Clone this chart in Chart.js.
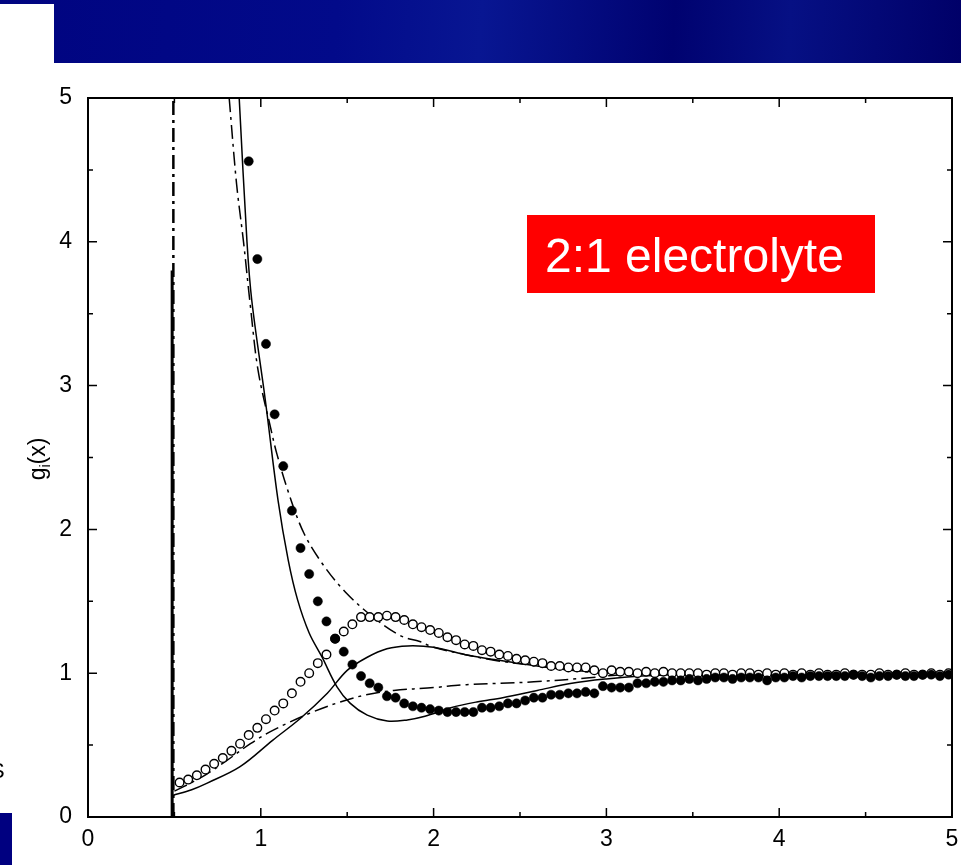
<!DOCTYPE html>
<html>
<head>
<meta charset="utf-8">
<script src="https://cdn.jsdelivr.net/npm/chart.js@4.4.1/dist/chart.umd.min.js"></script>
<style>
  html, body { margin: 0; padding: 0; background: #fff; }
  #wrap { width: 961px; height: 865px; position: relative; }
</style>
</head>
<body>
<div id="wrap"><canvas id="myChart"></canvas></div>
<script>
// axis ticks
var majorTicks = [0, 1, 2, 3, 4, 5];
var minorTicks = [0.5, 1.5, 2.5, 3.5, 4.5];

// simulation points (open = co-ions, filled = counter-ions)
var simX = [
  0.53, 0.58, 0.63, 0.68, 0.73, 0.78, 0.83, 0.88, 0.93, 0.98,
  1.03, 1.08, 1.13, 1.18, 1.23, 1.28, 1.33, 1.38, 1.43, 1.48,
  1.53, 1.58, 1.63, 1.68, 1.73, 1.78, 1.83, 1.88, 1.93, 1.98,
  2.03, 2.08, 2.13, 2.18, 2.23, 2.28, 2.33, 2.38, 2.43, 2.48,
  2.53, 2.58, 2.63, 2.68, 2.73, 2.78, 2.83, 2.88, 2.93, 2.98,
  3.03, 3.08, 3.13, 3.18, 3.23, 3.28, 3.33, 3.38, 3.43, 3.48,
  3.53, 3.58, 3.63, 3.68, 3.73, 3.78, 3.83, 3.88, 3.93, 3.98,
  4.03, 4.08, 4.13, 4.18, 4.23, 4.28, 4.33, 4.38, 4.43, 4.48,
  4.53, 4.58, 4.63, 4.68, 4.73, 4.78, 4.83, 4.88, 4.93, 4.98
];
var coSim = [
  0.24, 0.26, 0.29, 0.33, 0.37, 0.41, 0.46, 0.51, 0.57, 0.62,
  0.68, 0.74, 0.79, 0.86, 0.94, 1.00, 1.07, 1.13, 1.24, 1.29,
  1.34, 1.39, 1.39, 1.39, 1.40, 1.39, 1.37, 1.34, 1.32, 1.30,
  1.28, 1.25, 1.23, 1.20, 1.19, 1.16, 1.15, 1.13, 1.12, 1.10,
  1.09, 1.08, 1.07, 1.05, 1.05, 1.04, 1.04, 1.04, 1.02, 1.00,
  1.02, 1.01, 1.01, 1.00, 1.01, 1.00, 1.01, 1.00, 1.00, 1.00,
  1.00, 0.99, 1.00, 1.00, 0.99, 1.00, 1.00, 0.99, 1.00, 0.99,
  1.00, 0.99, 1.00, 0.99, 1.00, 0.99, 0.99, 1.00, 0.99, 0.99,
  0.99, 1.00, 0.99, 0.99, 1.00, 0.99, 0.99, 1.00, 0.99, 1.00
];
var counterSim = [
  null, null, null, null, null, null, null, null, 4.56, 3.88,
  3.29, 2.80, 2.44, 2.13, 1.87, 1.69, 1.50, 1.36, 1.24, 1.15,
  1.06, 0.98, 0.93, 0.90, 0.84, 0.83, 0.79, 0.77, 0.76, 0.75,
  0.74, 0.73, 0.73, 0.73, 0.73, 0.76, 0.76, 0.77, 0.79, 0.79,
  0.81, 0.83, 0.83, 0.85, 0.85, 0.86, 0.86, 0.87, 0.86, 0.91,
  0.90, 0.90, 0.90, 0.93, 0.93, 0.94, 0.94, 0.95, 0.95, 0.96,
  0.95, 0.96, 0.97, 0.97, 0.96, 0.97, 0.97, 0.97, 0.95, 0.97,
  0.97, 0.98, 0.97, 0.98, 0.98, 0.98, 0.98, 0.98, 0.99, 0.98,
  0.97, 0.98, 0.98, 0.99, 0.98, 0.98, 0.99, 0.99, 0.98, 0.99
];

// theory curves, solid
var counterSolidX = [0.875, 0.92, 0.948, 1.026, 1.10, 1.159, 1.213, 1.28, 1.354, 1.441, 1.518, 1.616, 1.732, 1.848, 1.95, 2.1, 2.25, 2.4, 2.6, 2.8, 3.0, 3.2, 3.5, 4.0, 5.0];
var counterSolidY = [5.0, 4.0, 3.59, 2.9, 2.2, 1.785, 1.51, 1.28, 1.113, 0.905, 0.79, 0.708, 0.667, 0.675, 0.70, 0.76, 0.80, 0.83, 0.88, 0.93, 0.96, 0.98, 0.995, 1.0, 1.0];
var coSolidX = [0.49, 0.6, 0.69, 0.88, 1.07, 1.23, 1.385, 1.50, 1.616, 1.73, 1.85, 2.0, 2.2, 2.35, 2.6, 2.8, 3.0, 3.3, 5.0];
var coSolidY = [0.15, 0.19, 0.236, 0.35, 0.535, 0.687, 0.861, 1.02, 1.111, 1.17, 1.19, 1.18, 1.125, 1.095, 1.05, 1.02, 1.005, 1.0, 1.0];

// theory curves, dash-dot
var counterDashX = [0.817, 0.86, 0.90, 0.94, 0.985, 1.058, 1.093, 1.166, 1.251, 1.363, 1.489, 1.65, 1.81, 1.92, 2.0, 2.2, 2.35, 2.6, 2.8, 3.0, 5.0];
var counterDashY = [5.0, 4.4, 4.0, 3.55, 3.1, 2.70, 2.525, 2.236, 1.97, 1.75, 1.565, 1.39, 1.26, 1.22, 1.18, 1.125, 1.09, 1.05, 1.02, 1.0, 1.0];
var coDashX = [0.5, 0.6, 0.69, 0.8, 0.94, 1.05, 1.15, 1.30, 1.46, 1.61, 1.77, 2.0, 2.19, 2.58, 2.87, 3.1, 3.4, 5.0];
var coDashY = [0.18, 0.24, 0.30, 0.39, 0.51, 0.59, 0.65, 0.73, 0.80, 0.85, 0.88, 0.90, 0.92, 0.94, 0.965, 0.99, 1.0, 1.0];

// contact walls
var wallSolidX = [0.487, 0.487];
var wallSolidY = [0, 3.8];
var wallDashX = [0.494, 0.494];
var wallDashY = [0, 5.2];

function pts(xs, ys) {
  return xs.map(function (x, i) { return { x: x, y: ys[i] }; });
}

var FONT = "'Liberation Sans', Arial, Helvetica, sans-serif";

var pageDecor = {
  id: 'pageDecor',
  beforeDraw: function (chart) {
    var ctx = chart.ctx;
    ctx.save();
    var g = ctx.createLinearGradient(0, 0, 961, 63);
    g.addColorStop(0, 'rgb(0,4,128)');
    g.addColorStop(0.35, 'rgb(2,10,138)');
    g.addColorStop(0.5, 'rgb(8,22,146)');
    g.addColorStop(0.7, 'rgb(0,2,112)');
    g.addColorStop(0.82, 'rgb(6,16,132)');
    g.addColorStop(1, 'rgb(0,0,104)');
    ctx.fillStyle = g;
    ctx.fillRect(0, 0, 961, 63);
    ctx.fillStyle = '#fff';
    ctx.fillRect(0, 4, 54, 59);
    ctx.fillStyle = 'rgb(0,0,128)';
    ctx.fillRect(0, 813, 12, 52);
    ctx.fillStyle = '#000';
    ctx.font = '22px ' + FONT;
    ctx.textBaseline = 'alphabetic';
    ctx.fillText('S', -10, 778);
    ctx.restore();
  },
  afterDraw: function (chart) {
    var ctx = chart.ctx;
    ctx.save();
    // y axis title g_i(x)
    ctx.translate(45, 459);
    ctx.rotate(-Math.PI / 2);
    ctx.fillStyle = '#000';
    ctx.textBaseline = 'alphabetic';
    ctx.font = '23px ' + FONT;
    var wg = ctx.measureText('g').width;
    var wr = ctx.measureText('(x)').width;
    ctx.font = '14px ' + FONT;
    var wi = ctx.measureText('i').width;
    var start = -(wg + wi + wr) / 2;
    ctx.font = '23px ' + FONT;
    ctx.fillText('g', start, 0);
    ctx.font = '14px ' + FONT;
    ctx.fillText('i', start + wg, 5);
    ctx.font = '23px ' + FONT;
    ctx.fillText('(x)', start + wg + wi, 0);
    ctx.restore();

    // red label box
    ctx.save();
    ctx.fillStyle = '#ff0000';
    ctx.fillRect(527, 215, 348, 78);
    ctx.fillStyle = '#fff';
    ctx.font = '48px ' + FONT;
    ctx.textBaseline = 'alphabetic';
    ctx.fillText('2:1 electrolyte', 545, 272);
    ctx.restore();
  }
};

var frameTicks = {
  id: 'frameTicks',
  afterDatasetsDraw: function (chart) {
    var ctx = chart.ctx, a = chart.chartArea;
    var x = chart.scales.x, y = chart.scales.y;
    ctx.save();
    ctx.strokeStyle = '#000';
    ctx.lineWidth = 1.5;
    ctx.beginPath();
    function mark(list, len) {
      list.forEach(function (v) {
        var px = x.getPixelForValue(v);
        ctx.moveTo(px, a.bottom); ctx.lineTo(px, a.bottom - len);
        ctx.moveTo(px, a.top); ctx.lineTo(px, a.top + len);
        var py = y.getPixelForValue(v);
        ctx.moveTo(a.left, py); ctx.lineTo(a.left + len, py);
        ctx.moveTo(a.right, py); ctx.lineTo(a.right - len, py);
      });
    }
    mark(majorTicks, 9);
    mark(minorTicks, 5);
    ctx.stroke();
    ctx.lineWidth = 2;
    ctx.strokeRect(a.left, a.top, a.right - a.left, a.bottom - a.top);
    ctx.restore();
  }
};

var lineStyle = function (data, dash, width) {
  return {
    data: data,
    showLine: true,
    borderColor: '#000',
    borderWidth: width,
    borderDash: dash,
    pointRadius: 0,
    tension: 0.35,
    fill: false
  };
};

var ctx = document.getElementById('myChart').getContext('2d');
var myChart = new Chart(ctx, {
  type: 'scatter',
  data: {
    datasets: [
      {
        label: 'counter-ion simulation',
        data: pts(simX, counterSim),
        pointRadius: 4.6,
        pointBackgroundColor: '#000',
        pointBorderColor: '#000',
        pointBorderWidth: 0.5
      },
      {
        label: 'co-ion simulation',
        data: pts(simX, coSim),
        pointRadius: 4.3,
        pointBackgroundColor: '#fff',
        pointBorderColor: '#000',
        pointBorderWidth: 1.4
      },
      lineStyle(pts(counterSolidX, counterSolidY), [], 1.5),
      lineStyle(pts(coSolidX, coSolidY), [], 1.5),
      lineStyle(pts(counterDashX, counterDashY), [14, 5, 3, 5], 1.5),
      lineStyle(pts(coDashX, coDashY), [14, 5, 3, 5], 1.5),
      Object.assign(lineStyle(pts(wallSolidX, wallSolidY), [], 3), { tension: 0 }),
      Object.assign(lineStyle(pts(wallDashX, wallDashY), [14, 5, 3, 5], 2.5), { tension: 0 })
    ]
  },
  options: {
    responsive: true,
    maintainAspectRatio: false,
    devicePixelRatio: 1,
    animation: false,
    layout: { padding: { top: 98, right: 9, left: 0, bottom: 0 } },
    plugins: {
      legend: { display: false },
      tooltip: { enabled: false }
    },
    scales: {
      x: {
        type: 'linear',
        min: 0,
        max: 5,
        grid: { display: false, drawTicks: false },
        border: { display: false },
        afterBuildTicks: function (s) { s.ticks = majorTicks.map(function (v) { return { value: v }; }); },
        afterFit: function (s) { s.height = 48; s.paddingLeft = 0; s.paddingRight = 0; },
        ticks: { color: '#000', font: { family: FONT, size: 23 }, padding: 9, maxRotation: 0 }
      },
      y: {
        type: 'linear',
        min: 0,
        max: 5,
        grid: { display: false, drawTicks: false },
        border: { display: false },
        afterBuildTicks: function (s) { s.ticks = majorTicks.map(function (v) { return { value: v }; }); },
        afterFit: function (s) { s.width = 88; s.paddingTop = 0; s.paddingBottom = 0; },
        ticks: { color: '#000', font: { family: FONT, size: 23 }, padding: 16 }
      }
    }
  },
  plugins: [pageDecor, frameTicks]
});
</script>
</body>
</html>
